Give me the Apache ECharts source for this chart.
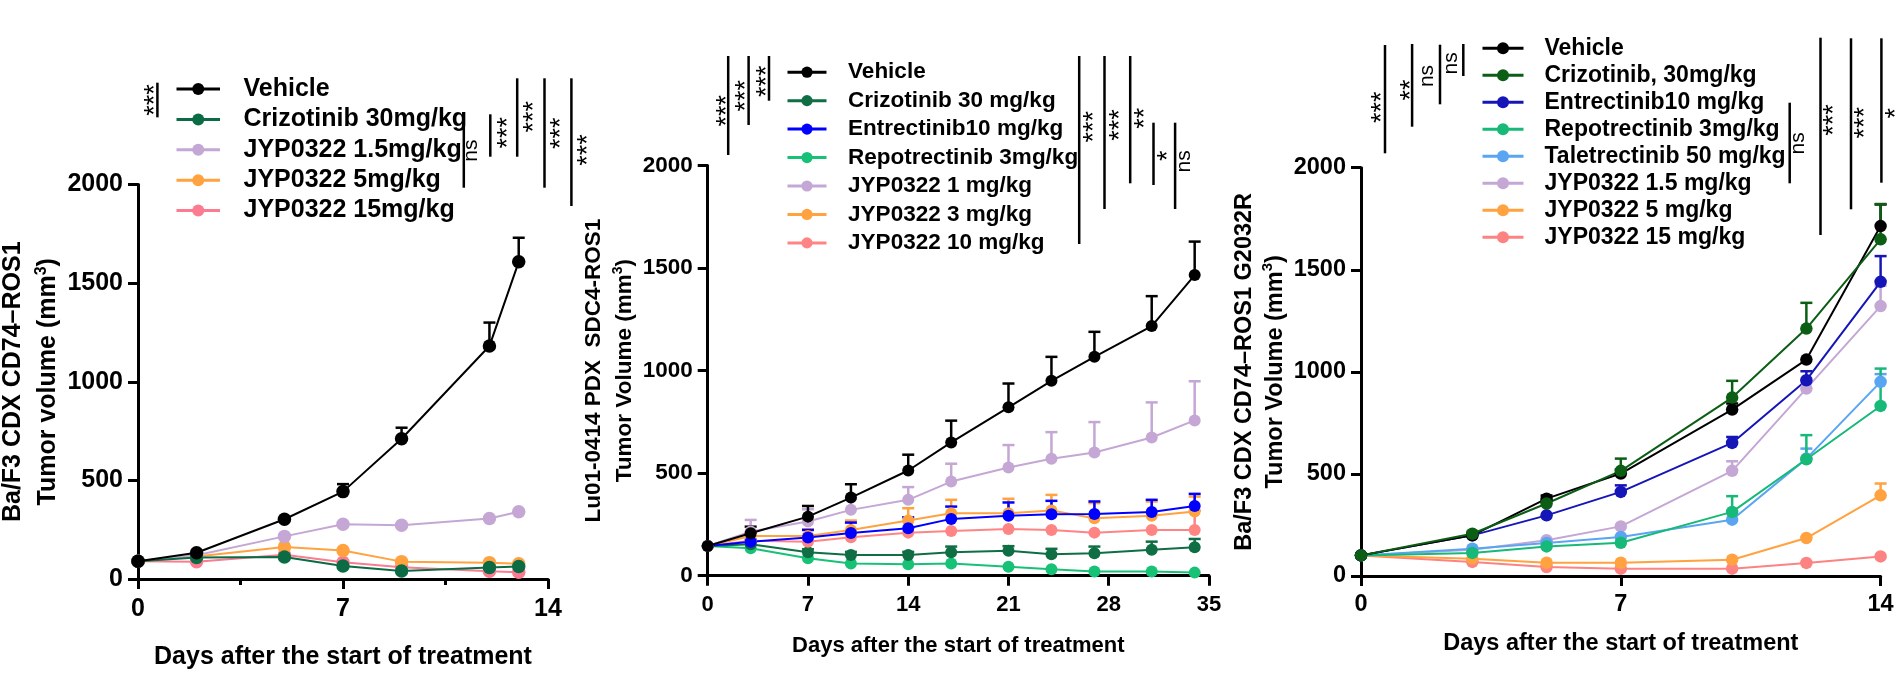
<!DOCTYPE html>
<html><head><meta charset="utf-8">
<script src="https://cdn.jsdelivr.net/npm/echarts@6/dist/echarts.min.js"></script>
<style>html,body{margin:0;padding:0;background:#fff}#c{width:1903px;height:676px}</style>
</head><body><div id="c"></div>
<script>
const FONT = "'Liberation Sans', Arial, sans-serif";

// ---------- Panel A : Ba/F3 CDX CD74–ROS1 ----------
const aDays      = [0, 2, 5, 7, 9, 12, 13];
const aVehicle   = [90, 133, 303, 443, 711, 1181, 1608];
const aVehicleSem= [0, 0, 0, 38, 56, 119, 122];
const aCriz      = [90, 109, 112, 66, 41, 58, 63];
const aJyp1p5    = [90, 120, 216, 278, 273, 307, 341];
const aJyp5      = [90, 114, 162, 145, 88, 83, 77];
const aJyp15     = [90, 88, 123, 85, 59, 39, 34];

// ---------- Panel B : Lu01-0414 PDX SDC4-ROS1 ----------
const bDays      = [0, 3, 7, 10, 14, 17, 21, 24, 27, 31, 34];
const bVehicle   = [145, 207, 288, 381, 513, 650, 821, 950, 1067, 1217, 1466];
const bVehicleSem= [0, 32, 52, 65, 77, 106, 116, 117, 122, 146, 163];
const bCriz      = [145, 153, 114, 101, 101, 114, 122, 104, 109, 126, 139];
const bCrizSem   = [0, 10, 15, 15, 15, 28, 22, 27, 33, 40, 40];
const bEntr      = [145, 166, 186, 208, 231, 277, 292, 300, 301, 311, 340];
const bEntrSem   = [0, 10, 37, 51, 54, 60, 65, 65, 61, 59, 59];
const bRepo      = [145, 134, 85, 60, 56, 60, 44, 31, 20, 20, 15];
const bJyp1      = [145, 215, 264, 321, 370, 459, 528, 570, 601, 674, 757];
const bJyp1Sem   = [0, 57, 60, 55, 62, 87, 109, 130, 148, 171, 191];
const bJyp3      = [145, 194, 194, 223, 269, 305, 305, 318, 280, 292, 313];
const bJyp3Sem   = [0, 15, 32, 46, 60, 65, 70, 76, 74, 70, 73];
const bJyp10     = [145, 170, 166, 187, 210, 218, 228, 223, 210, 223, 223];
const bJyp10Sem  = [0, 0, 0, 0, 0, 0, 0, 0, 0, 0, 95];

// ---------- Panel C : Ba/F3 CDX CD74–ROS1 G2032R ----------
const cDays      = [0, 3, 5, 7, 10, 12, 14];
const cVehicle   = [101, 199, 379, 502, 815, 1060, 1714];
const cVehicleSem= [0, 10, 15, 20, 30, 0, 106];
const cCriz      = [101, 207, 355, 515, 874, 1212, 1649];
const cCrizSem   = [0, 10, 15, 60, 82, 126, 173];
const cEntr      = [101, 199, 297, 412, 652, 959, 1441];
const cEntrSem   = [0, 0, 0, 32, 29, 44, 126];
const cRepo      = [101, 113, 145, 163, 314, 572, 833];
const cRepoSem   = [0, 0, 0, 0, 77, 118, 183];
const cTale      = [101, 134, 162, 191, 276, 575, 951];
const cTaleSem   = [0, 0, 0, 0, 0, 49, 38];
const cJyp1p5    = [101, 129, 175, 243, 515, 918, 1322];
const cJyp1p5Sem = [0, 0, 0, 0, 47, 0, 100];
const cJyp5      = [101, 85, 65, 65, 80, 186, 395];
const cJyp5Sem   = [0, 0, 0, 0, 0, 0, 58];
const cJyp15     = [101, 69, 44, 36, 36, 64, 96];

const yTicks = [0, 500, 1000, 1500, 2000];

// significance annotations (label text)
const sigA = ['***', 'ns', '***', '***', '***', '***'];
const sigB = ['***', '***', '***', '***', '***', '**', '*', 'ns'];
const sigC = ['***', '**', 'ns', 'ns', 'ns', '***', '***', '*'];

// layout of annotation brackets (pixels): line x, y1, y2, text x, text y
const layA = [[157.4,82.7,117.3,155.4,100],[463.8,114.3,187.7,471.3,150.7],[490.3,114.3,156.7,509,132.7],[517.2,78.3,156.7,534.7,116.7],[544.5,78.3,187.7,561.2,133.3],[571.4,78.3,206,588.8,150]];
const layB = [[728.2,56,155,727.6,110.7],[748.6,56,125,746.8,95.7],[769,56,100.7,767.6,81.3],[1079.2,56,244,1094.6,126.7],[1104.5,56,209,1120.3,125],[1130.2,56,183.3,1145.2,118.3],[1153.5,122.7,185,1168.4,155.7],[1175.1,122.7,209,1184,161.3]];
const layC = [[1385,45,153.3,1382.6,107.3],[1412.1,44,126.7,1411.7,90],[1440,44.7,104.3,1427,76],[1463.3,44,76,1451.5,63.3],[1789.7,102.7,183.3,1798.7,143.3],[1820.5,37.7,235,1835,120],[1851,38.3,209.3,1866,122.7],[1881.4,38.3,182.7,1896.3,113.3]];

function lineSeries(name, gi, days, vals, color, size, z) {
  return {
    type: 'line', name: name, xAxisIndex: gi, yAxisIndex: gi,
    data: days.map((d, i) => [d, vals[i]]),
    symbol: 'circle', symbolSize: size, showSymbol: true,
    lineStyle: { color: color, width: 2 }, itemStyle: { color: color },
    emphasis: { disabled: true }, z: z, animation: false
  };
}
function errSeries(gi, days, vals, sem, color, z) {
  const data = [];
  days.forEach((d, i) => { if (sem[i] > 0) data.push([d, vals[i], vals[i] + sem[i]]); });
  return {
    type: 'custom', name: 'err', xAxisIndex: gi, yAxisIndex: gi, z: z,
    encode: { x: 0, y: [1, 2] }, data: data, animation: false, silent: true,
    renderItem: function (params, api) {
      const p0 = api.coord([api.value(0), api.value(1)]);
      const p1 = api.coord([api.value(0), api.value(2)]);
      return { type: 'group', children: [
        { type: 'line', shape: { x1: p0[0], y1: p0[1], x2: p1[0], y2: p1[1] }, style: { stroke: color, lineWidth: 2.5 } },
        { type: 'line', shape: { x1: p1[0] - 6, y1: p1[1], x2: p1[0] + 6, y2: p1[1] }, style: { stroke: color, lineWidth: 2.5 } }
      ]};
    }
  };
}

const C = {
  black: '#000000', lav: '#c4a7d4', orange: '#ffa23f'
};

const series = [
  // Panel A
  errSeries(0, aDays, aVehicle, aVehicleSem, C.black, 2),
  lineSeries('A|JYP0322 15mg/kg', 0, aDays, aJyp15, '#fb7b90', 13.5, 3),
  lineSeries('A|JYP0322 5mg/kg', 0, aDays, aJyp5, C.orange, 13.5, 3),
  lineSeries('A|JYP0322 1.5mg/kg', 0, aDays, aJyp1p5, C.lav, 13.5, 3),
  lineSeries('A|Crizotinib 30mg/kg', 0, aDays, aCriz, '#0b6b45', 13.5, 3),
  lineSeries('A|Vehicle', 0, aDays, aVehicle, C.black, 13.5, 4),
  // Panel B
  errSeries(1, bDays, bJyp10, bJyp10Sem, '#ff8585', 2),
  errSeries(1, bDays, bJyp3, bJyp3Sem, C.orange, 2),
  errSeries(1, bDays, bEntr, bEntrSem, '#0000ff', 2),
  errSeries(1, bDays, bCriz, bCrizSem, '#0f6e44', 2),
  errSeries(1, bDays, bJyp1, bJyp1Sem, C.lav, 2),
  errSeries(1, bDays, bVehicle, bVehicleSem, C.black, 2),
  lineSeries('B|Repotrectinib 3mg/kg', 1, bDays, bRepo, '#17c277', 12, 3),
  lineSeries('B|Crizotinib 30 mg/kg', 1, bDays, bCriz, '#0f6e44', 12, 3),
  lineSeries('B|JYP0322 10 mg/kg', 1, bDays, bJyp10, '#ff8585', 12, 3),
  lineSeries('B|JYP0322 3 mg/kg', 1, bDays, bJyp3, C.orange, 12, 3),
  lineSeries('B|Entrectinib10 mg/kg', 1, bDays, bEntr, '#0000ff', 12, 3),
  lineSeries('B|JYP0322 1 mg/kg', 1, bDays, bJyp1, C.lav, 12, 3),
  lineSeries('B|Vehicle', 1, bDays, bVehicle, C.black, 12, 4),
  // Panel C
  errSeries(2, cDays, cJyp5, cJyp5Sem, C.orange, 2),
  errSeries(2, cDays, cJyp1p5, cJyp1p5Sem, C.lav, 2),
  errSeries(2, cDays, cTale, cTaleSem, '#5aa5f2', 2),
  errSeries(2, cDays, cRepo, cRepoSem, '#17b978', 2),
  errSeries(2, cDays, cEntr, cEntrSem, '#1616b8', 2),
  errSeries(2, cDays, cVehicle, cVehicleSem, C.black, 2),
  errSeries(2, cDays, cCriz, cCrizSem, '#0b5e14', 2),
  lineSeries('C|JYP0322 15 mg/kg', 2, cDays, cJyp15, '#fd8282', 12.5, 3),
  lineSeries('C|JYP0322 5 mg/kg', 2, cDays, cJyp5, C.orange, 12.5, 3),
  lineSeries('C|JYP0322 1.5 mg/kg', 2, cDays, cJyp1p5, C.lav, 12.5, 3),
  lineSeries('C|Taletrectinib 50 mg/kg', 2, cDays, cTale, '#5aa5f2', 12.5, 3),
  lineSeries('C|Repotrectinib 3mg/kg', 2, cDays, cRepo, '#17b978', 12.5, 3),
  lineSeries('C|Entrectinib10 mg/kg', 2, cDays, cEntr, '#1616b8', 12.5, 3),
  lineSeries('C|Vehicle', 2, cDays, cVehicle, C.black, 12.5, 4),
  lineSeries('C|Crizotinib, 30mg/kg', 2, cDays, cCriz, '#0b5e14', 12.5, 4)
];

function xAxis(gi, max, fs, margin, gap, minor) {
  return {
    type: 'value', gridIndex: gi, min: 0, max: max, interval: 7,
    axisLine: { lineStyle: { color: '#000', width: 3 } },
    axisTick: { length: 10, lineStyle: { color: '#000', width: 3 } },
    minorTick: { show: !!minor, splitNumber: 2, length: 6, lineStyle: { color: '#000', width: 3 } },
    splitLine: { show: false }, minorSplitLine: { show: false },
    axisLabel: { fontSize: fs, fontWeight: 'bold', color: '#000', fontFamily: FONT, margin: margin },
    name: 'Days after the start of treatment', nameLocation: 'middle', nameGap: gap,
    nameTextStyle: { fontSize: fs, fontWeight: 'bold', color: '#000', fontFamily: FONT }
  };
}
function yAxis(gi, fs, line1, line2, lh, gap) {
  return {
    type: 'value', gridIndex: gi, min: 0, max: 2000, interval: 500,
    axisLine: { show: true, lineStyle: { color: '#000', width: 3 } },
    axisTick: { show: true, length: 10, lineStyle: { color: '#000', width: 3 } },
    splitLine: { show: false },
    axisLabel: { fontSize: fs, fontWeight: 'bold', color: '#000', fontFamily: FONT, margin: 15,
      formatter: v => yTicks.includes(v) ? String(v) : '' },
    name: '{a|' + line1 + '}\n{a|' + line2 + '}{s|3}{a|)}', nameLocation: 'middle', nameRotate: 90, nameGap: gap,
    nameTextStyle: { rich: {
      a: { fontSize: fs, fontWeight: 'bold', color: '#000', fontFamily: FONT, lineHeight: lh },
      s: { fontSize: Math.round(fs * 0.62), fontWeight: 'bold', color: '#000', fontFamily: FONT, lineHeight: 14, padding: [0, 0, 14, 0] }
    } }
  };
}
function legend(prefix, names, left, top, iw, ih, gap, fs, pad) {
  return {
    orient: 'vertical', left: left, top: top, itemWidth: iw, itemHeight: ih, itemGap: gap,
    selectedMode: false, data: names.map(n => prefix + '|' + n),
    formatter: n => n.split('|')[1],
    lineStyle: { width: 3 },
    textStyle: { fontSize: fs, fontWeight: 'bold', color: '#000', fontFamily: FONT, padding: [0, 0, 0, pad] }
  };
}

const graphic = [];
function addSig(lay, labels) {
  lay.forEach((l, i) => {
    graphic.push({ type: 'line', shape: { x1: l[0], y1: l[1], x2: l[0], y2: l[2] }, style: { stroke: '#000', lineWidth: 2.5 }, silent: true });
    const t = labels[i];
    graphic.push({ type: 'text', x: l[3], y: l[4], rotation: Math.PI / 2, silent: true,
      style: { text: t, fill: '#000', fontFamily: FONT, fontSize: t === 'ns' ? 21 : 27, align: 'center', verticalAlign: 'middle' } });
  });
}
addSig(layA, sigA); addSig(layB, sigB); addSig(layC, sigC);

const option = {
  animation: false,
  backgroundColor: '#fff',
  grid: [
    { left: 138, top: 184.5, width: 410, height: 394.5 },
    { left: 707.7, top: 165.5, width: 501.3, height: 410.2 },
    { left: 1361, top: 167.7, width: 519.6, height: 408.3 }
  ],
  xAxis: [ xAxis(0, 14, 25, 18, 66, true), xAxis(1, 35, 22, 18, 59, false), xAxis(2, 14, 23.5, 17, 56, false) ],
  yAxis: [
    yAxis(0, 25, 'Ba/F3 CDX CD74–ROS1', 'Tumor volume (mm', 35, 70),
    yAxis(1, 22.5, 'Lu01-0414 PDX  SDC4-ROS1', 'Tumor Volume (mm', 31, 58),
    yAxis(2, 23.5, 'Ba/F3 CDX CD74–ROS1 G2032R', 'Tumor Volume (mm', 31, 60)
  ],
  legend: [
    legend('A', ['Vehicle', 'Crizotinib 30mg/kg', 'JYP0322 1.5mg/kg', 'JYP0322 5mg/kg', 'JYP0322 15mg/kg'], 170, 71.5, 43.5, 15, 5.4, 25, 18.5),
    legend('B', ['Vehicle', 'Crizotinib 30 mg/kg', 'Entrectinib10 mg/kg', 'Repotrectinib 3mg/kg', 'JYP0322 1 mg/kg', 'JYP0322 3 mg/kg', 'JYP0322 10 mg/kg'], 781, 55.7, 39, 14, 5.45, 22.5, 16.6),
    legend('C', ['Vehicle', 'Crizotinib, 30mg/kg', 'Entrectinib10 mg/kg', 'Repotrectinib 3mg/kg', 'Taletrectinib 50 mg/kg', 'JYP0322 1.5 mg/kg', 'JYP0322 5 mg/kg', 'JYP0322 15 mg/kg'], 1476, 31.7, 41, 15, 4, 23, 16)
  ],
  graphic: graphic,
  series: series
};
echarts.init(document.getElementById('c')).setOption(option);
</script></body></html>
